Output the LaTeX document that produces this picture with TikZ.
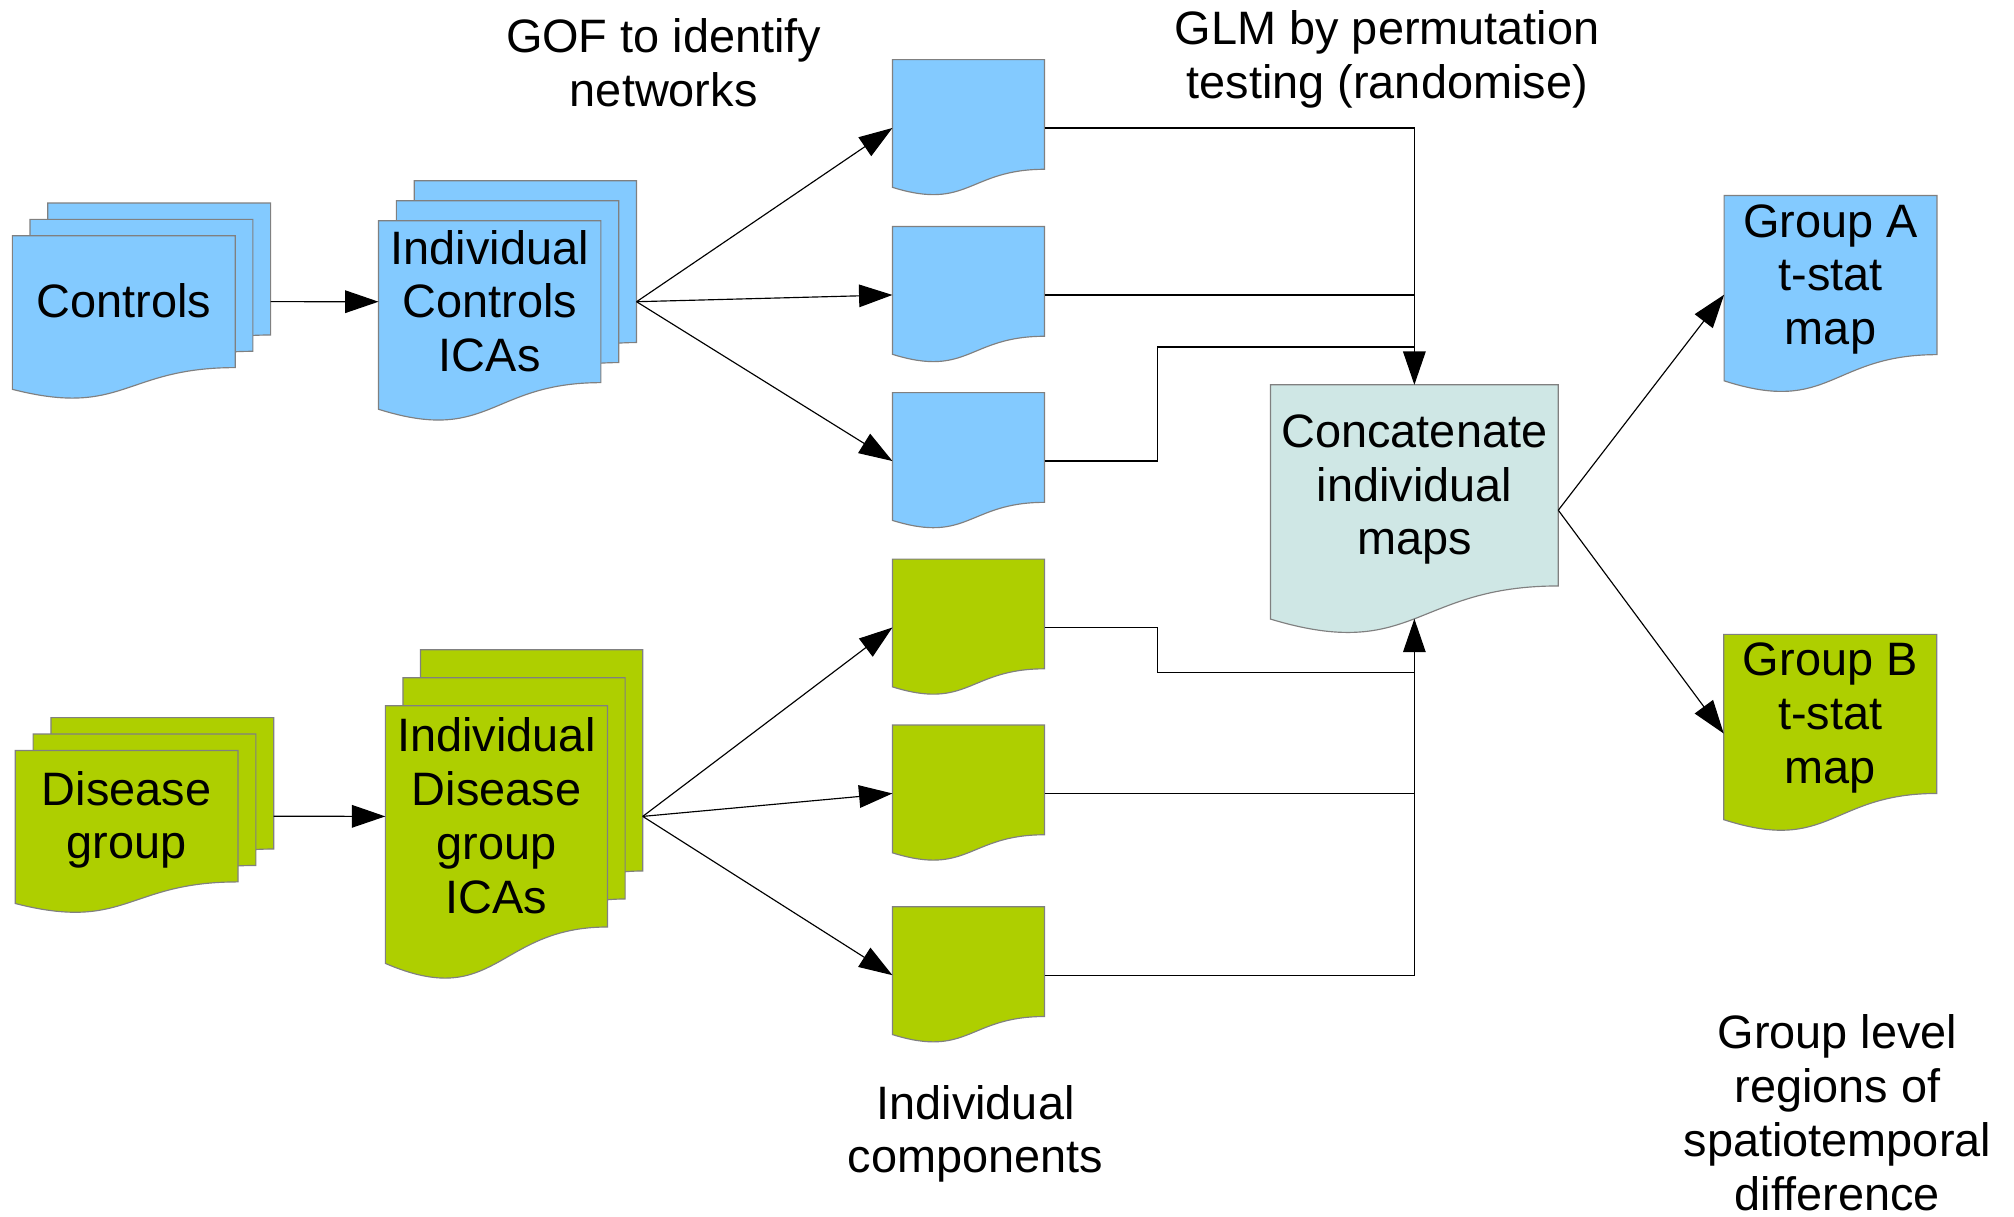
\documentclass[tikz,border=0pt]{standalone}
\usepackage{fontspec}
\setmainfont{Liberation Sans}
\usetikzlibrary{calc,arrows.meta,backgrounds}

\definecolor{skyblue}{RGB}{131,202,255}
\definecolor{leaf}{RGB}{174,207,0}
\definecolor{mist}{RGB}{207,231,229}
\definecolor{rim}{RGB}{128,128,128}

\newcommand\docfont{\fontsize{36.5}{41.9}\selectfont}
% line strut: keeps every text line the same height around its baseline
\newcommand\ls{\rule[-0.1885em]{0pt}{1.0685em}}
% connection points sit at this fraction of the page's straight part
\newcommand\glue{0.6234}

% document page outline for node #1, shifted by (#2,#3), filled with #4
\newcommand\docpage[4]{%
  \begin{pgfonlayer}{background}
    \path[page, fill=#4]
      ($(#1.north west)+(#2,#3)$) -- ($(#1.north east)+(#2,#3)$)
      -- ($(#1.south east)+(#2,#3)$)
      .. controls ($(#1.south)+(#2,#3)$) and ($(#1.north)!1.381!(#1.south)+(#2,#3)$)
      .. ($(#1.north west)!1.1646!(#1.south west)+(#2,#3)$) -- cycle;
  \end{pgfonlayer}}

\tikzset{
  page/.style={draw=rim, line width=0.9pt, line join=miter},
  doc/.style 2 args={rectangle, inner sep=0pt, minimum width=#1,
    minimum height=#2, align=center, font=\docfont},
  note/.style={inner sep=0pt, align=center, font=\docfont},
  conn/.style={draw=black, line width=0.9pt},
  tip/.style={-{Triangle[length=26pt,width=17.6pt]}},
}

\begin{document}
\begin{tikzpicture}[x=1pt, y=-1pt]
\useasboundingbox (0,0) rectangle (1568,947);
\begin{pgfonlayer}{background}
  \fill[white] (0,0) rectangle (1568,947);
\end{pgfonlayer}

% ---- input stacks ----
\node[doc={173.1pt}{102.3pt}] (ctrl) at (96.35,234.85) {\ls Controls};
\docpage{ctrl}{27.6}{-25.4}{skyblue}
\docpage{ctrl}{13.8}{-12.7}{skyblue}
\docpage{ctrl}{0}{0}{skyblue}

\node[doc={172.7pt}{125.6pt}] (ctrlica) at (381.25,234.9)
  {\ls Individual\\\ls Controls\\\ls ICAs};
\docpage{ctrlica}{27.8}{-31.2}{skyblue}
\docpage{ctrlica}{13.9}{-15.6}{skyblue}
\docpage{ctrlica}{0}{0}{skyblue}

\node[doc={173pt}{101.9pt}] (dis) at (98.6,635.45) {\ls Disease\\\ls group};
\docpage{dis}{27.8}{-25.6}{leaf}
\docpage{dis}{13.9}{-12.8}{leaf}
\docpage{dis}{0}{0}{leaf}

\node[doc={172.6pt}{171.8pt}] (disica) at (386.5,635.6)
  {\ls Individual\\\ls Disease\\\ls group\\\ls ICAs};
\docpage{disica}{27.4}{-43.6}{leaf}
\docpage{disica}{13.7}{-21.8}{leaf}
\docpage{disica}{0}{0}{leaf}

% ---- individual components ----
\node[doc={118pt}{85pt}] (b1) at (754,89.1) {};
\node[doc={118pt}{85pt}] (b2) at (754,219.1) {};
\node[doc={118pt}{85pt}] (b3) at (754,348.4) {};
\node[doc={118pt}{85pt}] (g1) at (754,478) {};
\node[doc={118pt}{85pt}] (g2) at (754,607.2) {};
\node[doc={118pt}{85pt}] (g3) at (754,748.7) {};
\foreach \n in {b1,b2,b3} {\docpage{\n}{0}{0}{skyblue}}
\foreach \n in {g1,g2,g3} {\docpage{\n}{0}{0}{leaf}}

% ---- group analysis ----
\node[doc={223.7pt}{156.2pt}] (concat) at (1101.15,377.9)
  {\ls Concatenate\\\ls individual\\\ls maps};
\docpage{concat}{0}{0}{mist}

\node[doc={165.3pt}{123.5pt}] (grpA) at (1425.15,214.15)
  {\ls Group A\\\ls t-stat\\\ls map};
\docpage{grpA}{0}{0}{skyblue}

\node[doc={165.4pt}{122.8pt}] (grpB) at (1424.9,555.8)
  {\ls Group B\\\ls t-stat\\\ls map};
\docpage{grpB}{0}{0}{leaf}

% ---- captions ----
\node[note] (gof) at (516.7,49) {\ls GOF to identify\\\ls networks};
\node[note] (glm) at (1080,43.5) {\ls GLM by permutation\\\ls testing (randomise)};
\node[note] (indiv) at (759.5,880) {\ls Individual\\\ls components};
\node[note] (grplvl) at (1430.5,866.8)
  {\ls Group level\\\ls regions of\\\ls spatiotemporal\\\ls difference};

% ---- connection points ----
\coordinate (ctrl-out) at ($(ctrl.east)+(27.6,0)$);
\coordinate (ctrlica-out) at ($(ctrlica.east)+(27.8,0)$);
\coordinate (dis-out) at ($(dis.east)+(27.8,0)$);
\coordinate (disica-out) at ($(disica.east)+(27.4,0)$);
\foreach \n in {b1,b2,b3,g1,g2,g3}
  {\coordinate (\n-out) at ($(\n.north east)!\glue!(\n.south east)$);}
\coordinate (concat-in) at ($(concat.north)!1.1634!(concat.south)$);
\coordinate (concat-out) at ($(concat.north east)!\glue!(concat.south east)$);
\coordinate (upper-bend) at (901,270.1);
\coordinate (lower-bend) at (901,523.7);

% ---- connectors ----
\draw[conn,tip] (ctrl-out) -- (ctrlica.west);
\draw[conn,tip] (dis-out) -- (disica.west);
\foreach \n in {b1,b2,b3}
  {\draw[conn,tip] (ctrlica-out) -- ($(\n.north west)!\glue!(\n.south west)$);}
\foreach \n in {g1,g2,g3}
  {\draw[conn,tip] (disica-out) -- ($(\n.north west)!\glue!(\n.south west)$);}

\draw[conn,tip] (b1-out) -| (concat.north);
\draw[conn] (b2-out) -- (b2-out -| concat.north);
\draw[conn] (b3-out) -| (upper-bend) -- (upper-bend -| concat.north);
\draw[conn] (g1-out) -| (lower-bend) -- (lower-bend -| concat.north);
\draw[conn] (g2-out) -- (g2-out -| concat.north);
\draw[conn,tip] (g3-out) -| (concat-in);

\draw[conn,tip] (concat-out) -- ($(grpA.north west)!\glue!(grpA.south west)$);
\draw[conn,tip] (concat-out) -- ($(grpB.north west)!\glue!(grpB.south west)$);
\end{tikzpicture}
\end{document}
